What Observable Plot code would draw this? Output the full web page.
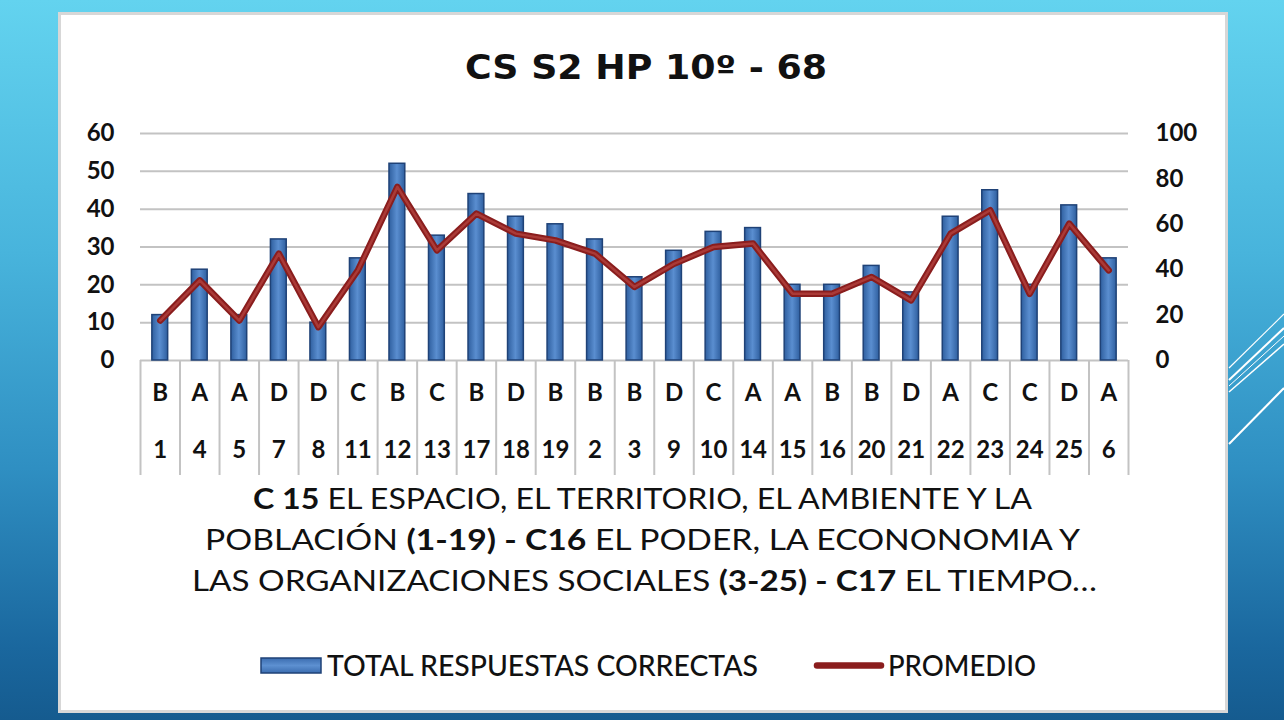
<!DOCTYPE html>
<html>
<head>
<meta charset="utf-8">
<script src="https://cdn.jsdelivr.net/npm/d3@7"></script>
<script src="https://cdn.jsdelivr.net/npm/@observablehq/plot@0.6"></script>
<style>
  html, body { margin: 0; padding: 0; }
  body {
    width: 1284px; height: 720px; overflow: hidden; position: relative;
    background: linear-gradient(to bottom, #63d3ef 0%, #48b4dc 35%, #2f8fc2 65%, #1a679e 90%, #155b8f 100%);
    font-family: "Lato", "DejaVu Sans", sans-serif;
  }
  #deco, #texts { position: absolute; left: 0; top: 0; }
  #panel {
    position: absolute; left: 58px; top: 12px; width: 1170px; height: 701px;
    background: #fff; border: 3px solid #d7d7d7; box-sizing: border-box;
  }
  #chart { position: absolute; left: 0; top: 100px; }
  #chart svg text { font-weight: 700; }
  #texts text { fill: #111; }
</style>
</head>
<body>
<svg id="deco" width="1284" height="720">
  <g stroke="#ffffff" fill="none">
    <line x1="1229" y1="368" x2="1284" y2="314" stroke-width="1.2"/>
    <line x1="1229" y1="380" x2="1284" y2="328" stroke-width="2"/>
    <line x1="1229" y1="386" x2="1284" y2="336" stroke-width="1"/>
    <line x1="1229" y1="392" x2="1284" y2="344" stroke-width="1.5"/>
    <line x1="1229" y1="444" x2="1284" y2="388" stroke-width="2"/>
  </g>
</svg>
<div id="panel"></div>
<div id="chart"></div>
<svg id="texts" width="1284" height="720">
  <defs>
    <linearGradient id="swGrad" x1="0" y1="0" x2="0" y2="1">
      <stop offset="0" stop-color="#3b6db0"/><stop offset="0.5" stop-color="#5d90d1"/><stop offset="1" stop-color="#3b6db0"/>
    </linearGradient>
  </defs>
  <text x="465" y="79" textLength="362" lengthAdjust="spacingAndGlyphs"
        style="font-family: 'DejaVu Sans', sans-serif; font-weight: 700; font-size: 33px;">CS S2 HP 10º - 68</text>
  <g style="font-family: Lato, 'Liberation Sans', sans-serif; font-size: 28px; font-weight: 400;">
    <text x="253" y="509" textLength="779" lengthAdjust="spacingAndGlyphs"><tspan font-weight="700">C 15</tspan> EL ESPACIO, EL TERRITORIO, EL AMBIENTE Y LA</text>
    <text x="205" y="550" textLength="875" lengthAdjust="spacingAndGlyphs">POBLACIÓN <tspan font-weight="700">(1-19) - C16</tspan> EL PODER, LA ECONONOMIA Y</text>
    <text x="192" y="591" textLength="905" lengthAdjust="spacingAndGlyphs">LAS ORGANIZACIONES SOCIALES <tspan font-weight="700">(3-25) - C17</tspan> EL TIEMPO…</text>
  </g>
  <g style="font-family: Lato, 'Liberation Sans', sans-serif; font-size: 28px; font-weight: 500;">
    <rect x="261" y="658" width="60" height="15" fill="url(#swGrad)" stroke="#1f4277" stroke-width="1.5"/>
    <text x="327" y="676" textLength="431" lengthAdjust="spacingAndGlyphs">TOTAL RESPUESTAS CORRECTAS</text>
    <line x1="817" y1="665.5" x2="881" y2="665.5" stroke="#8a1d1d" stroke-width="6.5" stroke-linecap="round"/>
    <text x="888" y="676" textLength="148" lengthAdjust="spacingAndGlyphs">PROMEDIO</text>
  </g>
</svg>
<script>
// ---- data ----
const letters = ["B","A","A","D","D","C","B","C","B","D","B","B","B","D","C","A","A","B","B","D","A","C","C","D","A"];
const numbers = ["1","4","5","7","8","11","12","13","17","18","19","2","3","9","10","14","15","16","20","21","22","23","24","25","6"];
const totals = [12,24,12,32,10,27,52,33,44,38,36,32,22,29,34,35,20,20,25,18,38,45,20,41,27];
const promedio = [17.6,35.3,17.6,47.1,14.7,39.7,76.5,48.5,64.7,55.9,52.9,47.1,32.4,42.6,50.0,51.5,29.4,29.4,36.8,26.5,55.9,66.2,29.4,60.3,39.7];
const leftTicks = [0,10,20,30,40,50,60];
const rightTicks = [0,20,40,60,80,100];

const n = totals.length;
const data = totals.map((t, i) => ({i, letter: letters[i], num: numbers[i], total: t, prom: promedio[i]}));
const bounds = d3.range(n + 1).map(k => k - 0.5);
const ratio = 60 / 100; // right axis (0-100) mapped onto left axis (0-60)
const halfBar = 0.2;

const H = 390, mTop = 33, mBottom = 130;
const frameH = H - mTop - mBottom;

const chart = Plot.plot({
  width: 1284, height: H,
  marginLeft: 140, marginRight: 156, marginTop: mTop, marginBottom: mBottom,
  x: {type: "linear", domain: [-0.5, n - 0.5], axis: null},
  y: {domain: [0, 60], axis: null},
  style: {fontFamily: "Lato, sans-serif", fontSize: "24px", color: "#111", background: "transparent", overflow: "visible"},
  marks: [
    Plot.gridY(leftTicks, {stroke: "#c3c3c3", strokeOpacity: 1, strokeWidth: 2}),
    Plot.ruleX(bounds, {stroke: "#c3c3c3", strokeWidth: 2, insetTop: frameH, insetBottom: -115}),
    Plot.rectY(data, {x1: d => d.i - halfBar, x2: d => d.i + halfBar, y1: 0, y2: "total",
      fill: "url(#barGrad)", stroke: "#1f4277", strokeWidth: 1.5}),
    Plot.line(data, {x: "i", y: d => d.prom * ratio, stroke: "#8a1d1d", strokeWidth: 6.5, strokeLinejoin: "round", strokeLinecap: "round"}),
    Plot.line(data, {x: "i", y: d => d.prom * ratio, stroke: "#b2423f", strokeWidth: 2.5, strokeOpacity: 0.8, strokeLinejoin: "round", strokeLinecap: "round"}),
    Plot.axisY(leftTicks, {anchor: "left", tickSize: 0, tickPadding: 26, fontSize: 24, label: null}),
    Plot.axisY(rightTicks.map(v => v * ratio), {anchor: "right", tickSize: 0, tickPadding: 27, fontSize: 24,
      tickFormat: v => String(Math.round(v / ratio)), label: null}),
    Plot.text(data, {x: "i", text: "letter", frameAnchor: "bottom", dy: 40, fontSize: 24}),
    Plot.text(data, {x: "i", text: "num", frameAnchor: "bottom", dy: 97, fontSize: 24})
  ]
});

// bar gradient definition
const defs = document.createElementNS("http://www.w3.org/2000/svg", "defs");
defs.innerHTML = '<linearGradient id="barGrad" x1="0" y1="0" x2="1" y2="0">' +
  '<stop offset="0" stop-color="#2f5f9f"/><stop offset="0.5" stop-color="#5a8ed0"/><stop offset="1" stop-color="#2f5f9f"/></linearGradient>';
chart.insertBefore(defs, chart.firstChild);

document.getElementById("chart").appendChild(chart);
</script>
</body>
</html>
